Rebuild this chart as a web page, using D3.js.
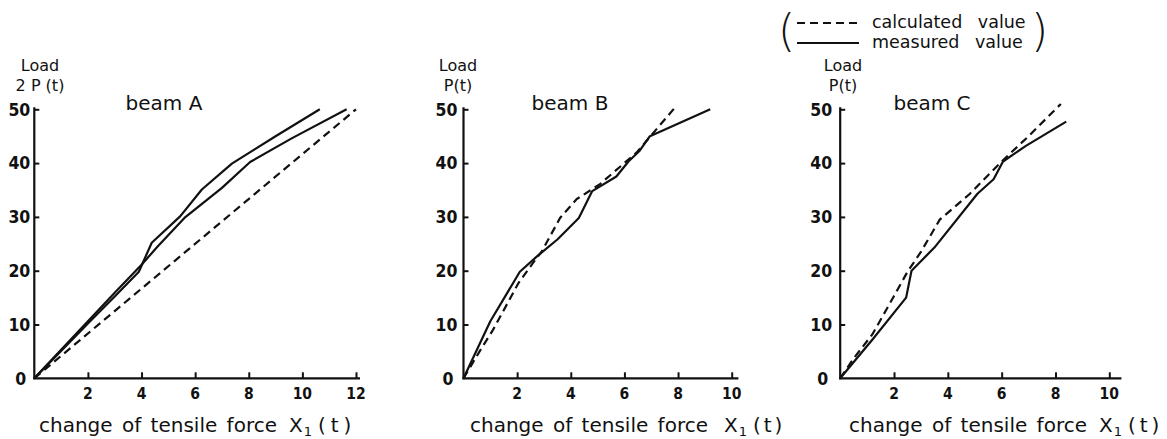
<!DOCTYPE html>
<html><head><meta charset="utf-8">
<script src="https://cdn.jsdelivr.net/npm/d3@7"></script>
<style>
html,body{margin:0;padding:0;background:#fff;}
svg{display:block;}
text{fill:#111;}
.w{font-family:"DejaVu Sans",sans-serif;}
.n{font-family:"DejaVu Sans Condensed","DejaVu Sans",sans-serif;font-stretch:condensed;font-weight:bold;}
</style></head>
<body>
<svg id="c" width="1167" height="439"></svg>
<script>
// ---- data ----
const yTicks = [0, 10, 20, 30, 40, 50];
const xTicksA = [2, 4, 6, 8, 10, 12];
const xTicksBC = [2, 4, 6, 8, 10];

// beam A (load 2P)
const beamA_calc = [[0,0],[12,50]];
const beamA_meas1 = [[0,0],[1,5.3],[2,10.6],[3,15.9],[4,21.1],[4.6,24.5],[5.6,29.8],[7,35.4],[8.05,40.2],[9.6,44.6],[11.65,50]];
const beamA_meas2 = [[0,0],[1,5.1],[2,10.2],[3,15.2],[3.9,19.8],[4.38,25.2],[5.44,30.1],[6.25,35.1],[7.37,39.9],[9,45],[10.65,50]];

// beam B
const beamB_calc = [[0,0],[0.6,5],[1.1,9],[2.05,17.7],[2.6,21.5],[2.92,23.6],[3.6,29.8],[4.22,33.3],[5.09,36.1],[6.46,42],[7.93,50.6]];
const beamB_meas = [[0,0],[1,10.6],[2.1,19.8],[2.75,22.7],[3.5,25.8],[4.3,29.8],[4.8,34.8],[5.7,37.5],[6.15,40.3],[6.55,42.2],[6.95,45],[9.2,50]];

// beam C
const beamC_calc = [[0,0],[0.5,3.7],[1.2,8.2],[2,15.3],[2.5,19.8],[3,23.5],[3.7,29.5],[4.8,34.2],[6,40.3],[7,45],[8.2,51]];
const beamC_meas = [[0,0],[1.2,7.2],[2.45,15],[2.65,20],[3.5,24.3],[5.1,34.3],[5.7,37],[6.05,40.3],[6.9,43.2],[8.4,47.7]];

const panels = [
  {name:"beam A", loadLbl:"2 P (t)", x0:34.3, xmaxVal:12, xmaxPx:356, axisEnd:12.15, ticks:xTicksA,
   calc:[beamA_calc], meas:[beamA_meas1, beamA_meas2], loadX:40, titleX:164, yLblOff:4, xTitleX:39, gapX:12, tLs:5},
  {name:"beam B", loadLbl:"P(t)", x0:463.5, xmaxVal:10, xmaxPx:731.7, axisEnd:10.25, ticks:xTicksBC,
   calc:[beamB_calc], meas:[beamB_meas], loadX:458, titleX:570, yLblOff:6, xTitleX:470, gapX:16, tLs:3},
  {name:"beam C", loadLbl:"P(t)", x0:840.2, xmaxVal:10, xmaxPx:1109.3, axisEnd:10.45, ticks:xTicksBC,
   calc:[beamC_calc], meas:[beamC_meas], loadX:843, titleX:932, yLblOff:8, xTitleX:849, gapX:12, tLs:4}
];

const svg = d3.select("#c");
const y = d3.scaleLinear().domain([0,50]).range([378.3,109.3]);

panels.forEach(p => {
  const x = d3.scaleLinear().domain([0,p.xmaxVal]).range([p.x0,p.xmaxPx]);
  const g = svg.append("g");
  const line = d3.line().x(d=>x(d[0])).y(d=>y(d[1]));

  // axes
  g.append("line").attr("x1",x(0)).attr("x2",x(0)).attr("y1",y(0)+1).attr("y2",y(50)-2)
    .attr("stroke","#111").attr("stroke-width",2.2);
  g.append("line").attr("x1",x(0)-1).attr("x2",x(p.axisEnd)).attr("y1",y(0)).attr("y2",y(0))
    .attr("stroke","#111").attr("stroke-width",2.2);

  // y ticks (inward)
  const yAxis = d3.axisRight(y).tickValues(yTicks.filter(v=>v>0)).tickSize(5).tickFormat("");
  const ya = g.append("g").attr("transform",`translate(${x(0)},0)`).call(yAxis);
  ya.select(".domain").remove();
  ya.selectAll("line").attr("stroke","#111").attr("stroke-width",2);
  // x ticks (upward)
  const xAxis = d3.axisTop(x).tickValues(p.ticks).tickSize(6).tickFormat("");
  const xa = g.append("g").attr("transform",`translate(0,${y(0)})`).call(xAxis);
  xa.select(".domain").remove();
  xa.selectAll("line").attr("stroke","#111").attr("stroke-width",2);

  // y tick labels
  g.selectAll(".yl").data(yTicks).enter().append("text").attr("class","n")
    .attr("x", d => x(0) - p.yLblOff - (d===0?4:0))
    .attr("y", d => y(d)).attr("dy","0.36em")
    .attr("text-anchor","end").attr("font-size",17.5).text(d=>d);
  // x tick labels
  g.selectAll(".xl").data(p.ticks).enter().append("text").attr("class","n")
    .attr("x", d => x(d)).attr("y", 398.5)
    .attr("text-anchor","middle").attr("font-size",15.5).text(d=>d);

  // data lines
  p.calc.forEach(s => g.append("path").attr("d",line(s)).attr("fill","none")
    .attr("stroke","#111").attr("stroke-width",2.2).attr("stroke-dasharray","8,5"));
  p.meas.forEach(s => g.append("path").attr("d",line(s)).attr("fill","none")
    .attr("stroke","#111").attr("stroke-width",2.2).attr("stroke-linejoin","round"));

  // labels
  g.append("text").attr("class","w").attr("x",p.loadX).attr("y",71).attr("text-anchor","middle")
    .attr("font-size",16).text("Load");
  g.append("text").attr("class","w").attr("x",p.loadX).attr("y",91).attr("text-anchor","middle")
    .attr("font-size",16).text(p.loadLbl);
  g.append("text").attr("class","w").attr("x",p.titleX).attr("y",110).attr("text-anchor","middle")
    .attr("font-size",20).text(p.name);

  const t = g.append("text").attr("class","w").attr("x",p.xTitleX).attr("y",432).attr("font-size",20)
    .attr("word-spacing",3);
  t.append("tspan").text("change of tensile force");
  t.append("tspan").attr("dx",p.gapX).text("X");
  t.append("tspan").attr("font-size",13).attr("dy",4).attr("dx",1).text("1");
  t.append("tspan").attr("dy",-4).attr("dx",6).attr("letter-spacing",p.tLs).text("(t)");
});

// legend
const lg = svg.append("g");
lg.append("text").attr("class","w").attr("x",778).attr("y",46).attr("font-size",44).attr("font-weight",200).text("(");
lg.append("text").attr("class","w").attr("x",1031).attr("y",46).attr("font-size",44).attr("font-weight",200).text(")");
lg.append("line").attr("x1",797).attr("x2",859).attr("y1",23).attr("y2",23)
  .attr("stroke","#111").attr("stroke-width",2).attr("stroke-dasharray","8,5");
lg.append("line").attr("x1",797).attr("x2",859).attr("y1",43).attr("y2",43)
  .attr("stroke","#111").attr("stroke-width",2);
lg.append("text").attr("class","w").attr("x",872).attr("y",28).attr("font-size",17.5).attr("word-spacing",10).text("calculated value");
lg.append("text").attr("class","w").attr("x",872).attr("y",48).attr("font-size",17.5).attr("word-spacing",10).text("measured value");
</script>
</body></html>
